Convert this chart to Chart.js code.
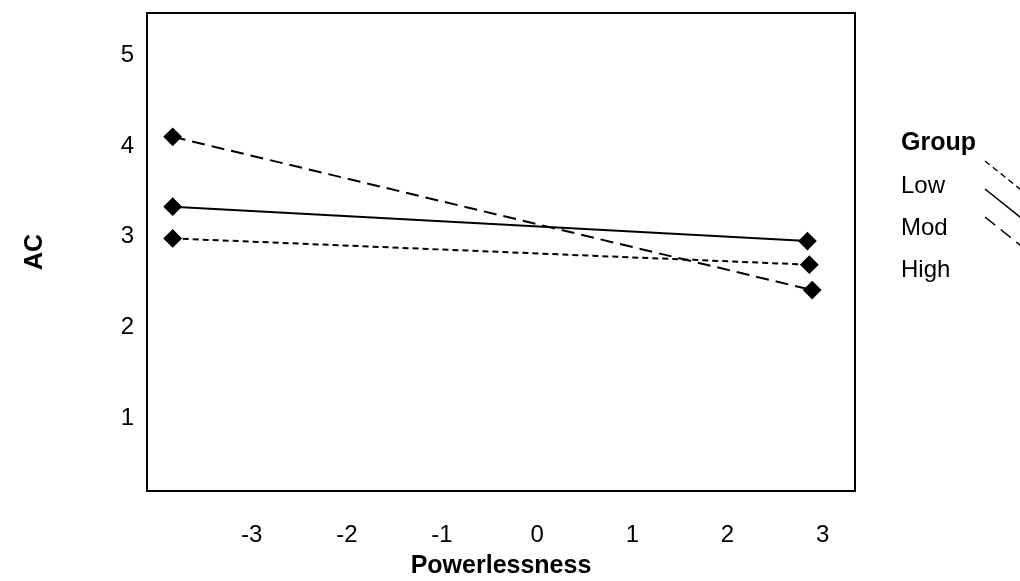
<!DOCTYPE html>
<html>
<head>
<meta charset="utf-8">
<script src="https://cdn.jsdelivr.net/npm/chart.js@4.4.0/dist/chart.umd.min.js"></script>
<style>
  html, body { margin: 0; padding: 0; background: #fff; }
</style>
</head>
<body>
<canvas id="chart" width="1020" height="581"></canvas>
<script>
const groups = ['Low', 'Mod', 'High'];
const lowX = [-3.83, 2.86];
const lowY = [2.98, 2.69];
const modX = [-3.83, 2.84];
const modY = [3.33, 2.95];
const highX = [-3.83, 2.89];
const highY = [4.10, 2.41];
const xTicks = [-3, -2, -1, 0, 1, 2, 3];
const yTicks = [1, 2, 3, 4, 5];

const FONT = "'Liberation Sans', Arial, sans-serif";

function toPoints(xs, ys) {
  return xs.map((x, i) => ({ x: x, y: ys[i] }));
}

// box round the plot area
const frame = {
  id: 'frame',
  afterDatasetsDraw(chart) {
    const a = chart.chartArea;
    const ctx = chart.ctx;
    ctx.save();
    ctx.strokeStyle = '#000';
    ctx.lineWidth = 2;
    ctx.strokeRect(a.left, a.top, a.right - a.left, a.bottom - a.top);
    ctx.restore();
  }
};

// legend on the right, line samples run off the edge like in the original
const groupLegend = {
  id: 'groupLegend',
  afterDraw(chart) {
    const ctx = chart.ctx;
    ctx.save();
    ctx.fillStyle = '#000';
    ctx.textBaseline = 'middle';
    ctx.textAlign = 'left';
    ctx.font = 'bold 25px ' + FONT;
    ctx.fillText('Group', 901, 143);
    ctx.font = '24px ' + FONT;
    groups.forEach((g, i) => {
      ctx.fillText(g, 901, 186 + i * 42);
    });
    chart.data.datasets.forEach((ds, i) => {
      const y0 = 161 + i * 28;
      ctx.strokeStyle = '#000';
      ctx.lineWidth = 1.5;
      ctx.setLineDash(ds.borderDash);
      ctx.beginPath();
      ctx.moveTo(985, y0);
      ctx.lineTo(1030, y0 + 36);
      ctx.stroke();
    });
    ctx.restore();
  }
};

const lineStyle = {
  borderColor: '#000',
  backgroundColor: '#000',
  borderWidth: 2,
  pointStyle: 'rectRot',
  pointRadius: 8,
  pointBackgroundColor: '#000',
  pointBorderColor: '#000',
  tension: 0
};

new Chart(document.getElementById('chart'), {
  type: 'line',
  data: {
    datasets: [
      Object.assign({ label: groups[0], data: toPoints(lowX, lowY), borderDash: [6, 4] }, lineStyle),
      Object.assign({ label: groups[1], data: toPoints(modX, modY), borderDash: [] }, lineStyle),
      Object.assign({ label: groups[2], data: toPoints(highX, highY), borderDash: [13, 7] }, lineStyle)
    ]
  },
  options: {
    responsive: false,
    animation: false,
    layout: { padding: { top: 13, right: 165, left: 0, bottom: 0 } },
    plugins: {
      legend: { display: false },
      tooltip: { enabled: false }
    },
    scales: {
      x: {
        type: 'linear',
        min: -4.10,
        max: 3.34,
        grid: { display: false, drawTicks: false },
        border: { display: false },
        afterBuildTicks: s => { s.ticks = xTicks.map(v => ({ value: v })); },
        afterFit: s => { s.height = 90; s.paddingLeft = 0; s.paddingRight = 0; },
        ticks: { color: '#000', font: { family: FONT, size: 24 }, padding: 30, maxRotation: 0 },
        title: {
          display: true,
          text: 'Powerlessness',
          color: '#000',
          font: { family: FONT, size: 25, weight: 'bold' },
          padding: { top: 0, bottom: 0 }
        }
      },
      y: {
        type: 'linear',
        min: 0.195,
        max: 5.465,
        grid: { display: false, drawTicks: false },
        border: { display: false },
        afterBuildTicks: s => { s.ticks = yTicks.map(v => ({ value: v })); },
        afterFit: s => { s.width = 147; s.paddingTop = 0; s.paddingBottom = 0; },
        ticks: { color: '#000', font: { family: FONT, size: 24 }, padding: 13 },
        title: {
          display: true,
          text: 'AC',
          color: '#000',
          font: { family: FONT, size: 25, weight: 'bold' },
          padding: { top: 20, bottom: 0 }
        }
      }
    }
  },
  plugins: [frame, groupLegend]
});
</script>
</body>
</html>
